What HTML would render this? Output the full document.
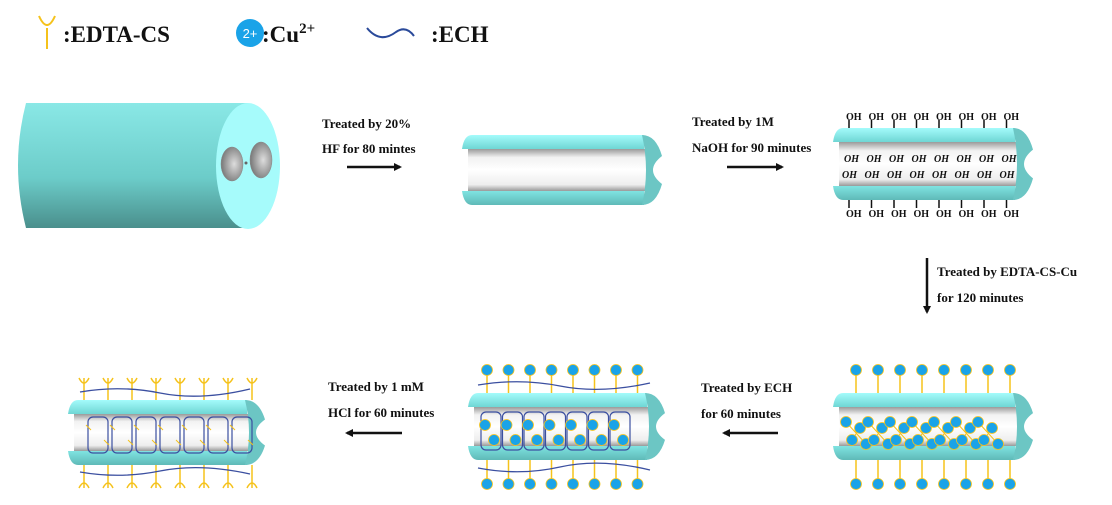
<!DOCTYPE html>
<html><head><meta charset="utf-8"><style>
html,body{margin:0;padding:0;background:#fff;width:1112px;height:505px;overflow:hidden}
svg text{font-family:"Liberation Serif",serif;font-weight:bold;fill:#111}
</style></head><body>
<svg id="s" width="1112" height="505" viewBox="0 0 1112 505" xmlns="http://www.w3.org/2000/svg">
<defs>
<linearGradient id="body" x1="0" y1="0" x2="0" y2="1"><stop offset="0" stop-color="#8ae8e6"/><stop offset="0.6" stop-color="#6cccc9"/><stop offset="1" stop-color="#4a8f8c"/></linearGradient>
<linearGradient id="wall" x1="0" y1="0" x2="0" y2="1"><stop offset="0" stop-color="#a4fbfb"/><stop offset="1" stop-color="#6fd6d4"/></linearGradient>
<linearGradient id="wall2" x1="0" y1="0" x2="0" y2="1"><stop offset="0" stop-color="#7fe3e1"/><stop offset="1" stop-color="#5fb9b7"/></linearGradient>
<linearGradient id="inner" x1="0" y1="0" x2="0" y2="1"><stop offset="0" stop-color="#9a9a9a"/><stop offset="0.2" stop-color="#f2f2f2"/><stop offset="0.5" stop-color="#fff"/><stop offset="0.85" stop-color="#eee"/><stop offset="1" stop-color="#999"/></linearGradient>
<radialGradient id="hole" cx="0.6" cy="0.5" r="0.6"><stop offset="0" stop-color="#ddd"/><stop offset="1" stop-color="#777"/></radialGradient>
<marker id="ah" markerWidth="8" markerHeight="8" refX="6" refY="4" orient="auto" markerUnits="userSpaceOnUse"><path d="M0,0 L8,4 L0,8 Z" fill="#111"/></marker>
</defs>
<!-- legend -->
<path d="M39,16 Q47,34 55,16 M47,28 L47,49" stroke="#f5c21b" stroke-width="2" fill="none"/>
<text x="63" y="42" font-size="23">:EDTA-CS</text>
<circle cx="250" cy="33" r="14" fill="#1aa3e8"/>
<text x="250" y="38" font-size="13" text-anchor="middle" style="font-family:'Liberation Sans',sans-serif;font-weight:normal;fill:#fff">2+</text>
<text x="262" y="42" font-size="23">:Cu<tspan dy="-9" font-size="15">2+</tspan></text>
<path d="M367,28 Q380,44 396,32 Q406,25 414,36" stroke="#2a4a9a" stroke-width="2" fill="none"/>
<text x="431" y="42" font-size="23">:ECH</text>
<!-- big fiber -->
<path d="M26,103 L248,103 L248,228 L26,228 Q10,165 26,103 Z" fill="url(#body)"/>
<ellipse cx="248" cy="166" rx="32" ry="63" fill="#a6fbfb"/>
<ellipse cx="232" cy="164" rx="11" ry="17" fill="url(#hole)" stroke="#888" stroke-width="0.5"/>
<ellipse cx="261" cy="160" rx="11" ry="18" fill="url(#hole)" stroke="#888" stroke-width="0.5"/>
<circle cx="246" cy="163" r="1.5" fill="#666"/>
<g id="g"></g>
<!-- texts & arrows -->
<text x="322" y="128" font-size="13">Treated by 20%</text>
<text x="322" y="153" font-size="13">HF for 80 mintes</text>
<line x1="347" y1="167" x2="400" y2="167" stroke="#111" stroke-width="2.5" marker-end="url(#ah)"/>
<text x="692" y="126" font-size="13">Treated by 1M</text>
<text x="692" y="152" font-size="13">NaOH for 90 minutes</text>
<line x1="727" y1="167" x2="782" y2="167" stroke="#111" stroke-width="2.5" marker-end="url(#ah)"/>
<line x1="927" y1="258" x2="927" y2="312" stroke="#111" stroke-width="2.5" marker-end="url(#ah)"/>
<text x="937" y="276" font-size="13">Treated by EDTA-CS-Cu</text>
<text x="937" y="302" font-size="13">for 120 minutes</text>
<text x="701" y="392" font-size="13">Treated by ECH</text>
<text x="701" y="418" font-size="13">for 60 minutes</text>
<line x1="778" y1="433" x2="724" y2="433" stroke="#111" stroke-width="2.5" marker-end="url(#ah)"/>
<text x="328" y="391" font-size="13">Treated by 1 mM</text>
<text x="328" y="417" font-size="13">HCl for 60 minutes</text>
<line x1="402" y1="433" x2="347" y2="433" stroke="#111" stroke-width="2.5" marker-end="url(#ah)"/>
</svg>
<script>
var g=document.getElementById('g'),h='';
function tube(x,y,w,H){
 var t=14;
 h+='<rect x="'+(x+6)+'" y="'+(y+t)+'" width="'+(w-22)+'" height="'+(H-2*t)+'" fill="url(#inner)"/>';
 h+='<path d="M'+x+','+(y+t)+' Q'+(x+2)+','+y+' '+(x+10)+','+y+' L'+(x+w-18)+','+y+' L'+(x+w-18)+','+(y+t)+' Z" fill="url(#wall)"/>';
 h+='<path d="M'+x+','+(y+H-t)+' L'+(x+w-18)+','+(y+H-t)+' L'+(x+w-18)+','+(y+H)+' L'+(x+10)+','+(y+H)+' Q'+(x+2)+','+(y+H)+' '+x+','+(y+H-t)+' Z" fill="url(#wall2)"/>';
 var r=x+w;
 h+='<path d="M'+(r-20)+','+y+' Q'+(r-6)+','+y+' '+r+','+(y+H*0.3)+' Q'+(r-18)+','+(y+H/2)+' '+r+','+(y+H*0.7)+' Q'+(r-6)+','+(y+H)+' '+(r-20)+','+(y+H)+' Q'+(r-12)+','+(y+H/2)+' '+(r-20)+','+y+' Z" fill="#6cc6c4"/>';
}
function oh(x,y,s){h+='<text x="'+x+'" y="'+y+'" font-size="10"'+(s?' font-style="italic"':'')+'>OH</text>';}
tube(462,135,200,70);
tube(833,128,200,72);
for(var i=0;i<8;i++){var x=846+i*22.5;
 h+='<line x1="'+(x+3)+'" y1="120" x2="'+(x+3)+'" y2="128" stroke="#111" stroke-width="1.5"/>';oh(x,120);
 h+='<line x1="'+(x+3)+'" y1="200" x2="'+(x+3)+'" y2="208" stroke="#111" stroke-width="1.5"/>';oh(x,217);
 oh(x-2,162,1);oh(x-4,178,1);}
function cu(x,y){h+='<circle cx="'+x+'" cy="'+y+'" r="5.5" fill="#1aa3e8" stroke="#f5c21b" stroke-width="0.8"/>';}
function yy(x,y,d){h+='<path d="M'+(x-5)+','+y+' Q'+x+','+(y+10*d)+' '+(x+5)+','+y+'" stroke="#f5c21b" stroke-width="1.5" fill="none"/>';}
tube(833,393,200,67);
for(var i=0;i<8;i++){var x=856+i*22;
 h+='<line x1="'+x+'" y1="370" x2="'+x+'" y2="393" stroke="#f5c21b" stroke-width="1.5"/>';cu(x,370);
 h+='<line x1="'+x+'" y1="460" x2="'+x+'" y2="483" stroke="#f5c21b" stroke-width="1.5"/>';cu(x,484);
 if(i<7){h+='<path d="M'+(x-10)+','+422+' L'+(x+10)+','+444+' M'+(x+4)+',428 L'+(x-4)+',440" stroke="#f5c21b" stroke-width="1"/>';cu(x-10,422);cu(x-4,440);cu(x+4,428);cu(x+10,444);}}
tube(468,393,197,67);
for(var i=0;i<8;i++){var x=487+i*21.5;
 h+='<line x1="'+x+'" y1="370" x2="'+x+'" y2="393" stroke="#f5c21b" stroke-width="1.5"/>';cu(x,370);
 h+='<line x1="'+x+'" y1="460" x2="'+x+'" y2="483" stroke="#f5c21b" stroke-width="1.5"/>';cu(x,484);
 if(i<7){h+='<rect x="'+(x-6)+'" y="412" width="20" height="38" rx="5" fill="none" stroke="#3b4fa0" stroke-width="1.2"/>';cu(x-2,425);cu(x+7,440);}}
h+='<path d="M478,385 Q520,378 560,386 T650,383" stroke="#3b4fa0" stroke-width="1.3" fill="none"/><path d="M478,468 Q520,476 560,467 T650,470" stroke="#3b4fa0" stroke-width="1.3" fill="none"/>';
tube(68,400,197,65);
for(var i=0;i<8;i++){var x=84+i*24;
 h+='<line x1="'+x+'" y1="378" x2="'+x+'" y2="400" stroke="#f5c21b" stroke-width="1.5"/>';yy(x,378,1);
 h+='<line x1="'+x+'" y1="465" x2="'+x+'" y2="488" stroke="#f5c21b" stroke-width="1.5"/>';yy(x,488,-1);
 if(i<7){h+='<rect x="'+(x+4)+'" y="417" width="20" height="36" rx="5" fill="none" stroke="#3b4fa0" stroke-width="1.2"/><path d="M'+(x+2)+',425 l5,5 M'+(x+20)+',440 l5,5" stroke="#f5c21b" stroke-width="1"/>';}}
h+='<path d="M80,392 Q120,385 160,393 T250,389" stroke="#3b4fa0" stroke-width="1.3" fill="none"/><path d="M80,472 Q120,479 160,471 T250,474" stroke="#3b4fa0" stroke-width="1.3" fill="none"/>';
g.innerHTML=h;
</script>
</body></html>
